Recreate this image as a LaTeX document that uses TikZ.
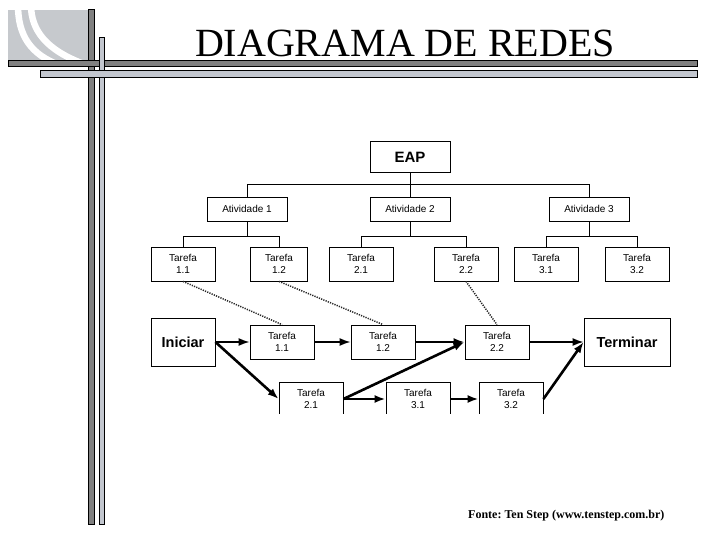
\documentclass[tikz,border=0pt]{standalone}
\usepackage{fontspec}
\setmainfont{Liberation Serif}
\setsansfont{Liberation Sans}
\usetikzlibrary{arrows.meta,positioning,calc}
\definecolor{bardark}{RGB}{128,128,128}
\definecolor{barlight}{RGB}{194,198,206}
\definecolor{decogray}{RGB}{198,201,205}
\tikzset{
  %% Slide frame bars
  darkbar/.style={draw=black, line width=0.8pt, fill=bardark},
  lightbar/.style={draw=black, line width=0.8pt, fill=barlight},
  %% WBS boxes
  rootbox/.style={
    rectangle, draw=black, line width=0.8pt, fill=white,
    minimum width=80pt, minimum height=31pt, inner sep=0pt,
    font=\sffamily\bfseries\fontsize{15}{15}\selectfont},
  actbox/.style={
    rectangle, draw=black, line width=0.8pt, fill=white,
    minimum width=80pt, minimum height=24pt, inner sep=0pt,
    font=\sffamily\fontsize{10}{12}\selectfont},
  taskbox/.style={
    rectangle, draw=black, line width=0.8pt, fill=white,
    minimum width=64pt, minimum height=34pt, inner sep=0pt,
    align=center, font=\sffamily\fontsize{10}{12}\selectfont},
  %% Start / end boxes
  endbox/.style={
    rectangle, draw=black, line width=0.8pt, fill=white,
    minimum height=48pt, inner sep=0pt,
    font=\sffamily\bfseries\fontsize{14.5}{15}\selectfont},
  %% Connectors
  tree/.style={line width=0.8pt},
  link/.style={line width=1.5pt, black!85, dash pattern=on 1.2pt off 1.2pt},
  arrow/.style={-{Latex[length=11pt,width=8pt]}, line width=1.6pt},
  tarrow/.style={-{Latex[length=11pt,width=8pt]}, line width=2.6pt},
}

\begin{document}
\begin{tikzpicture}[x=1pt, y=-1pt]

  \fill[white] (0,0) rectangle (720,540);
  \useasboundingbox (0,0) rectangle (720,540);

  %% Corner ornament
  \begin{scope}
    \clip (8,10) rectangle (88,60);
    \fill[decogray] (8,10) rectangle (88,60);
    \draw[white, line width=6.5pt] (18,5) .. controls (18,35) and (30,55) .. (62,66);
    \draw[white, line width=6.5pt] (31,5) .. controls (31,30) and (46,50) .. (84,64);
  \end{scope}

  %% Frame bars
  \draw[darkbar]  (88,9) rectangle (94,524);
  \draw[darkbar]  (8,60) rectangle (697,66);
  \draw[lightbar] (99,37) rectangle (104,524);
  \draw[lightbar] (40,70) rectangle (697,77);

  %% Title
  \node[font=\fontsize{40}{40}\selectfont, anchor=base, inner sep=0pt]
    (title) at (405,57) {DIAGRAMA DE REDES};

  %% WBS
  \node[rootbox] (eap)  at (410,157) {EAP};
  \node[actbox]  (act1) at (247,209) {Atividade 1};
  \node[actbox]  (act2) at (410,209) {Atividade 2};
  \node[actbox]  (act3) at (589,209) {Atividade 3};

  \node[taskbox] (t11) at (183,264) {Tarefa\\1.1};
  \node[taskbox, minimum width=57pt] (t12) at (279,264) {Tarefa\\1.2};
  \node[taskbox] (t21) at (361,264) {Tarefa\\2.1};
  \node[taskbox] (t22) at (466,264) {Tarefa\\2.2};
  \node[taskbox] (t31) at (546,264) {Tarefa\\3.1};
  \node[taskbox] (t32) at (637,264) {Tarefa\\3.2};

  \draw[tree] (eap) -- (act2);
  \draw[tree] (eap.south) -- ++(0,12) -| (act1.north);
  \draw[tree] (eap.south) -- ++(0,12) -| (act3.north);
  \draw[tree] (act1.south) -- ++(0,15) -| (t11.north);
  \draw[tree] (act1.south) -- ++(0,15) -| (t12.north);
  \draw[tree] (act2.south) -- ++(0,15) -| (t21.north);
  \draw[tree] (act2.south) -- ++(0,15) -| (t22.north);
  \draw[tree] (act3.south) -- ++(0,15) -| (t31.north);
  \draw[tree] (act3.south) -- ++(0,15) -| (t32.north);

  %% Network
  \node[endbox, minimum width=64pt] (ini) at (183,342) {Iniciar};
  \node[taskbox] (n11) at (282,342) {Tarefa\\1.1};
  \node[taskbox] (n12) at (383,342) {Tarefa\\1.2};
  \node[taskbox] (n22) at (497,342) {Tarefa\\2.2};
  \node[endbox, minimum width=86pt] (fim) at (627,342) {Terminar};

  \begin{scope}
    \clip (0,0) rectangle (720,413);
    \node[taskbox] (n21) at (311,399) {Tarefa\\2.1};
    \node[taskbox] (n31) at (418,399) {Tarefa\\3.1};
    \node[taskbox] (n32) at (511,399) {Tarefa\\3.2};
  \end{scope}

  \draw[link] (t11.south) -- (n11.north);
  \draw[link] (t12.south) -- (n12.north);
  \draw[link] (t22.south) -- (n22.north);

  \draw[arrow]  (ini) -- (n11);
  \draw[arrow]  (n11) -- (n12);
  \draw[tarrow] (n12) -- (n22);
  \draw[arrow]  (n22) -- (fim);
  \draw[tarrow] (ini.east) -- (n21.west);
  \draw[tarrow] (n21.east) -- (n22.west);
  \draw[tarrow] (n21) -- (n31);
  \draw[tarrow] (n31) -- (n32);
  \draw[tarrow] (n32.east) -- (fim.west);

  %% Source
  \node[font=\bfseries\frenchspacing\fontsize{12}{14}\selectfont, anchor=base west, inner sep=0pt]
    (fonte) at (468,518) {Fonte: Ten Step (www.tenstep.com.br)};

\end{tikzpicture}
\end{document}
